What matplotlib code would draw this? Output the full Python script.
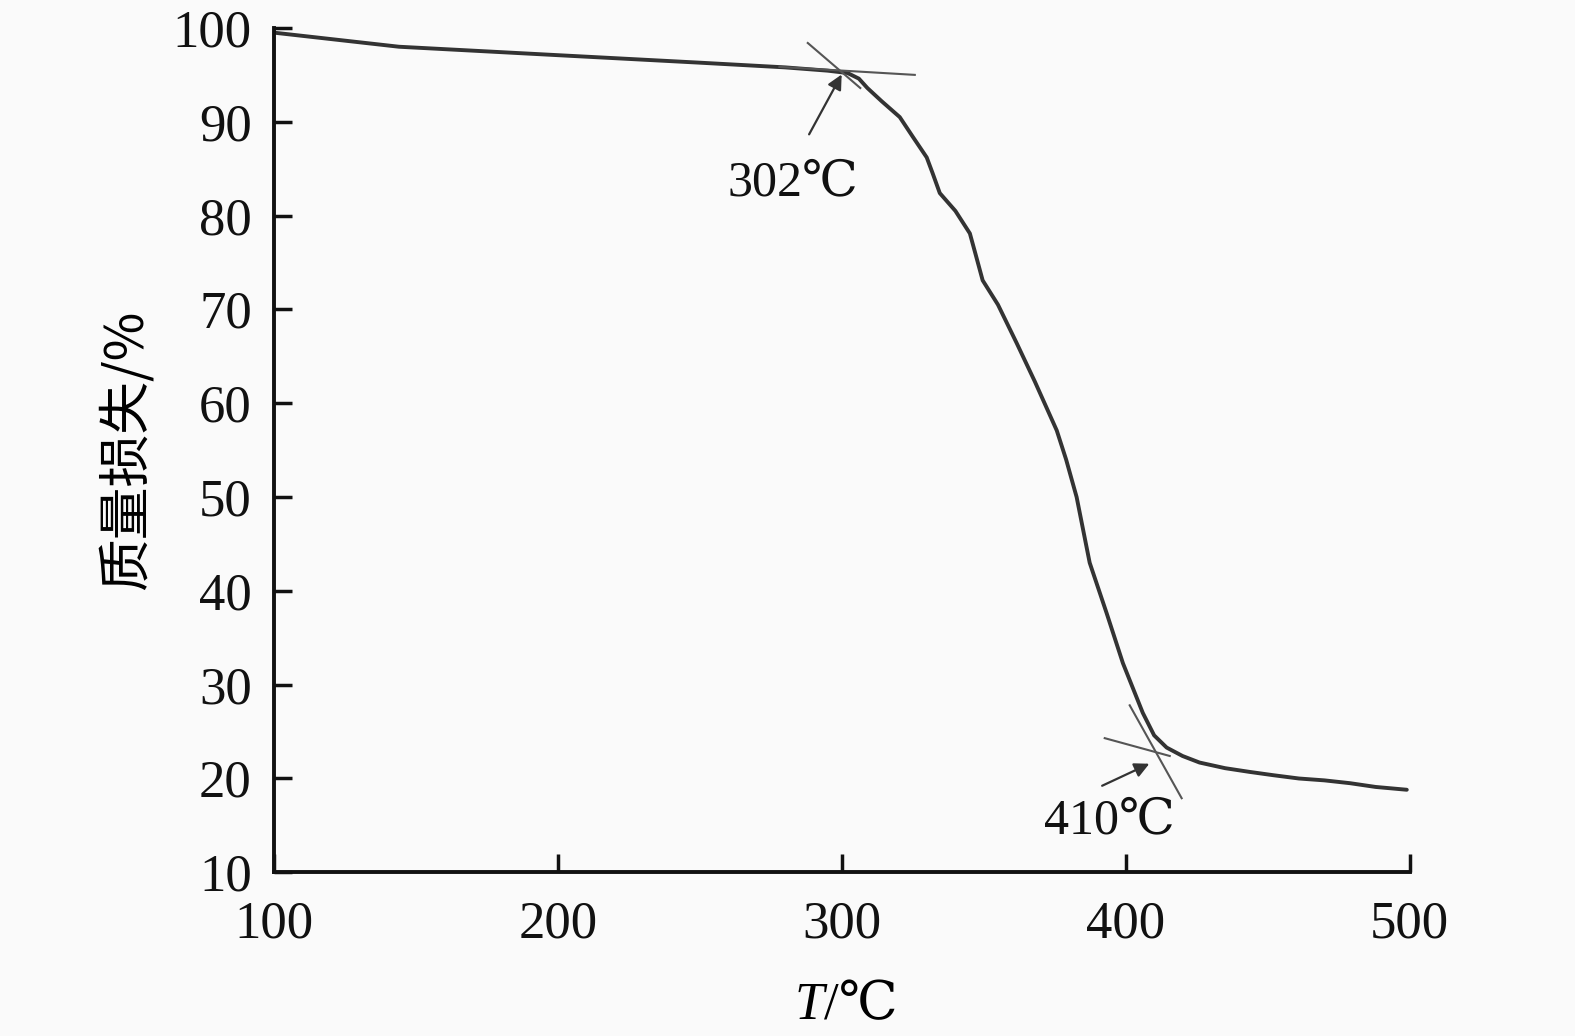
import numpy as np
import matplotlib.pyplot as plt

# TG curve
temp = [100, 144, 200, 250, 280, 295, 302, 306, 309, 314, 320.4, 325, 329.9, 332, 334.5, 340,
        345.1, 347, 349.6, 355, 361.6, 368, 375.7, 379, 382.7, 387.3, 393.3, 399, 406, 410,
        414.4, 420, 426, 435, 443.7, 452, 461, 470, 479, 488, 499]
mass = [99.5, 98.0, 97.1, 96.3, 95.8, 95.45, 95.2, 94.6, 93.6, 92.2, 90.5, 88.4, 86.2, 84.5,
        82.4, 80.5, 78.1, 76.0, 73.1, 70.5, 66.4, 62.3, 57.1, 54.0, 50.0, 43.0, 37.6, 32.3,
        27.0, 24.6, 23.3, 22.4, 21.7, 21.1, 20.7, 20.35, 20.0, 19.8, 19.5, 19.1, 18.8]

# tangent lines and onset markers
tan1_flat = ([278, 325.7], [95.85, 95.0])
tan1_steep = ([288, 306.5], [98.4, 93.6])
tan2_flat = ([392.6, 415.5], [24.3, 22.4])
tan2_steep = ([401.4, 419.7], [27.8, 17.9])
onsets = ["302℃", "410℃"]
arrow_head = [(300.4, 95.3), (409.2, 21.7)]
arrow_tail = [(288, 88.4), (390.8, 19.1)]
label_pos = [(282.7, 83.5), (394.4, 15.5)]

xticks = [100, 200, 300, 400, 500]
yticks = [10, 20, 30, 40, 50, 60, 70, 80, 90, 100]

serif = ['Liberation Serif', 'DejaVu Serif', 'Noto Sans CJK SC']
plt.rcParams['font.family'] = serif

fig = plt.figure(figsize=(15.75, 10.36), dpi=100, facecolor='#fafafa')
ax = fig.add_axes([0.174, 0.158, 0.721, 0.815])
ax.set_facecolor('#fafafa')

ax.plot(temp, mass, color='#333333', lw=2.8, solid_capstyle='round', solid_joinstyle='round')
for xs, ys in [tan1_flat, tan1_steep, tan2_flat, tan2_steep]:
    ax.plot(xs, ys, color='#555555', lw=1.5)

for txt, head, tail, pos in zip(onsets, arrow_head, arrow_tail, label_pos):
    ax.annotate('', xy=head, xytext=tail,
                arrowprops=dict(arrowstyle='-|>', color='#333333', lw=1.6, mutation_scale=22))
    ax.text(pos[0], pos[1], txt, fontsize=36, ha='center', va='center', color='#111111')

ax.set_xlim(100, 500)
ax.set_ylim(10, 100)
ax.set_xticks(xticks)
ax.set_yticks(yticks)
ax.spines['top'].set_visible(False)
ax.spines['right'].set_visible(False)
for s in ['left', 'bottom']:
    ax.spines[s].set_linewidth(2.8)
    ax.spines[s].set_color('#111111')
ax.tick_params(direction='in', length=13, width=2.5, labelsize=38, colors='#111111')
ax.tick_params(axis='x', pad=20)
ax.tick_params(axis='y', pad=16)

# x label: italic T followed by upright /℃
fig.text(0.523, 0.0165, 'T', fontsize=38, style='italic', ha='right', va='baseline')
fig.text(0.523, 0.0165, '/℃', fontsize=38, ha='left', va='baseline')
ax.set_ylabel('质量损失/%', fontsize=38, labelpad=14,
              family=['Noto Sans CJK SC', 'DejaVu Sans'])

fig.savefig('out.png', dpi=100, facecolor=fig.get_facecolor())
